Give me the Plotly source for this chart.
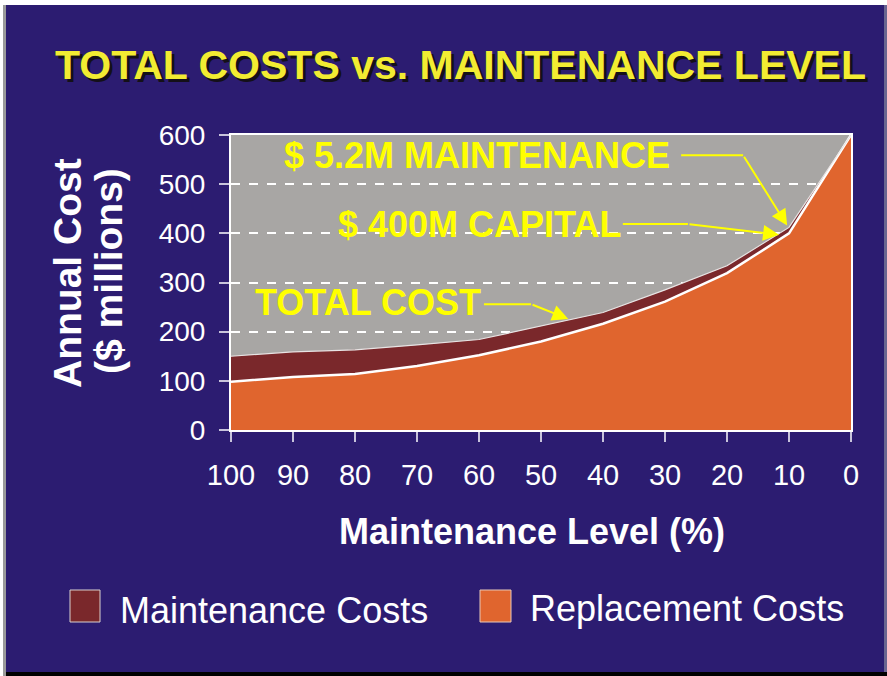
import plotly.graph_objects as go

# ---------------- data ----------------
levels = [100, 90, 80, 70, 60, 50, 40, 30, 20, 10, 0]
replacement = [98, 108, 114, 130, 152, 180, 216, 261, 319, 400, 600]
maintenance = [52, 51, 49, 43, 32, 31, 23, 24, 15, 12, 0]
series_names = ["Maintenance Costs", "Replacement Costs"]
x_ticks = [100, 90, 80, 70, 60, 50, 40, 30, 20, 10, 0]
y_ticks = [0, 100, 200, 300, 400, 500, 600]

title_text = "TOTAL COSTS vs. MAINTENANCE LEVEL"
x_title = "Maintenance Level (%)"
y_title_1 = "Annual Cost"
y_title_2 = "($ millions)"
callouts = ["$ 5.2M MAINTENANCE", "$ 400M CAPITAL", "TOTAL COST"]

# ---------------- styling ----------------
W, H = 887, 676
L, R, T, B = 231, 36, 135, 246
NAVY = "#2c1c71"
GRAY = "#a8a6a4"
ORANGE = "#e0652e"
MAROON = "#7a282b"
YELLOW = "#ffff00"
TITLE_YELLOW = "#f2ec32"
SANS = "Liberation Sans, Arial, sans-serif"

PW, PH = W - L - R, H - T - B


def px(xp):
    return (xp - L) / PW


def py(yp):
    return (H - B - yp) / PH


fig = go.Figure()
fig.add_trace(go.Scatter(
    x=levels, y=replacement, name=series_names[1], mode="lines",
    stackgroup="one", fillcolor=ORANGE, line=dict(color="white", width=2.5),
    hoverinfo="x+y",
))
fig.add_trace(go.Scatter(
    x=levels, y=maintenance, name=series_names[0], mode="lines",
    stackgroup="one", fillcolor=MAROON, line=dict(color="#e8e4e4", width=1.2),
    hoverinfo="x+y",
))

axis_common = dict(
    showline=True, linecolor="white", linewidth=2, mirror=True,
    ticks="outside", ticklen=10, tickcolor="#c8c4dc", tickwidth=1.5,
    zeroline=False,
)

fig.update_xaxes(
    range=[100, 0], tickvals=x_ticks, ticktext=[str(v) for v in x_ticks],
    showgrid=False, tickfont=dict(family=SANS, size=29, color="white"),
    ticklabelstandoff=8, **axis_common,
)
fig.update_yaxes(
    range=[0, 600], tickvals=y_ticks, ticktext=[str(v) for v in y_ticks],
    showgrid=True, gridcolor="white", gridwidth=2, griddash="dash",
    tickfont=dict(family=SANS, size=28, color="white"),
    ticklabelstandoff=8, **axis_common,
)

shapes = [
    # frame: white top strip, light left strip, black bottom shadow
    dict(type="rect", xref="paper", yref="paper", x0=px(0), x1=px(W), y0=py(5), y1=py(0),
         fillcolor="white", line_width=0, layer="below"),
    dict(type="rect", xref="paper", yref="paper", x0=px(0), x1=px(3), y0=py(H), y1=py(0),
         fillcolor="white", line_width=0, layer="below"),
    dict(type="rect", xref="paper", yref="paper", x0=px(3), x1=px(6), y0=py(H), y1=py(5),
         fillcolor="#9a9a9a", line_width=0, layer="below"),
    dict(type="rect", xref="paper", yref="paper", x0=px(6), x1=px(W), y0=py(H), y1=py(672),
         fillcolor="black", line_width=0, layer="below"),
    dict(type="rect", xref="paper", yref="paper", x0=px(884), x1=px(W), y0=py(672), y1=py(5),
         fillcolor="#6a6490", line_width=0, layer="below"),
    # callout leader lines (straight parts)
    dict(type="line", xref="x", yref="y", x0=27.4, y0=559, x1=17.4, y1=559,
         line=dict(color=YELLOW, width=2)),
    dict(type="line", xref="x", yref="y", x0=36.8, y0=419, x1=26.3, y1=419,
         line=dict(color=YELLOW, width=2)),
    dict(type="line", xref="x", yref="y", x0=59.2, y0=256, x1=51.6, y1=256,
         line=dict(color=YELLOW, width=2)),
    # legend swatches
    dict(type="rect", xref="paper", yref="paper", x0=px(70), x1=px(100), y0=py(622), y1=py(590),
         fillcolor=MAROON, line=dict(color="#d8d0d0", width=1)),
    dict(type="rect", xref="paper", yref="paper", x0=px(480), x1=px(511), y0=py(622), y1=py(590),
         fillcolor=ORANGE, line=dict(color="#e8c8b8", width=1)),
]

annotations = [
    # title with drop shadow
    dict(text="<b>" + title_text + "</b>", xref="paper", yref="paper", x=px(460), y=py(65),
         showarrow=False,
         font=dict(family=SANS, size=41, color=TITLE_YELLOW, shadow="3px 3px 0px #141018"),
         xanchor="center", yanchor="middle"),
    # axis titles
    dict(text="<b>" + x_title + "</b>", xref="paper", yref="paper", x=px(532), y=py(531),
         showarrow=False, font=dict(family=SANS, size=36, color="white"),
         xanchor="center", yanchor="middle"),
    dict(text="<b>" + y_title_1 + "</b>", xref="paper", yref="paper", x=px(67), y=py(273),
         showarrow=False, textangle=-90, font=dict(family=SANS, size=39, color="white"),
         xanchor="center", yanchor="middle"),
    dict(text="<b>" + y_title_2 + "</b>", xref="paper", yref="paper", x=px(108), y=py(271),
         showarrow=False, textangle=-90, font=dict(family=SANS, size=39, color="white"),
         xanchor="center", yanchor="middle"),
    # callout texts
    dict(text="<b>" + callouts[0] + "</b>", xref="x", yref="y", x=91.8, y=559, showarrow=False,
         font=dict(family=SANS, size=36, color=YELLOW), xanchor="left", yanchor="middle"),
    dict(text="<b>" + callouts[1] + "</b>", xref="x", yref="y", x=83.1, y=417, showarrow=False,
         font=dict(family=SANS, size=36, color=YELLOW), xanchor="left", yanchor="middle"),
    dict(text="<b>" + callouts[2] + "</b>", xref="x", yref="y", x=96.5, y=260, showarrow=False,
         font=dict(family=SANS, size=36, color=YELLOW), xanchor="left", yanchor="middle"),
    # callout arrows (final segments)
    dict(text="", xref="x", yref="y", x=10.3, y=416, axref="x", ayref="y", ax=17.4, ay=559,
         showarrow=True, arrowhead=2, arrowsize=1.6, arrowwidth=2, arrowcolor=YELLOW),
    dict(text="", xref="x", yref="y", x=11.6, y=397, axref="x", ayref="y", ax=26.3, ay=419,
         showarrow=True, arrowhead=2, arrowsize=1.6, arrowwidth=2, arrowcolor=YELLOW),
    dict(text="", xref="x", yref="y", x=45.6, y=226, axref="x", ayref="y", ax=51.6, ay=256,
         showarrow=True, arrowhead=2, arrowsize=1.6, arrowwidth=2, arrowcolor=YELLOW),
    # legend labels
    dict(text=series_names[0], xref="paper", yref="paper", x=px(118), y=py(610), showarrow=False,
         font=dict(family=SANS, size=36, color="white"), xanchor="left", yanchor="middle"),
    dict(text=series_names[1], xref="paper", yref="paper", x=px(528), y=py(608), showarrow=False,
         font=dict(family=SANS, size=36, color="white"), xanchor="left", yanchor="middle"),
]

fig.update_layout(
    width=W, height=H,
    margin=dict(l=L, r=R, t=T, b=B, autoexpand=False),
    paper_bgcolor=NAVY, plot_bgcolor=GRAY,
    showlegend=False,
    shapes=shapes, annotations=annotations,
)

fig.write_html("out.html", config={"displayModeBar": False},
               post_script="document.body.style.margin='0px';")
